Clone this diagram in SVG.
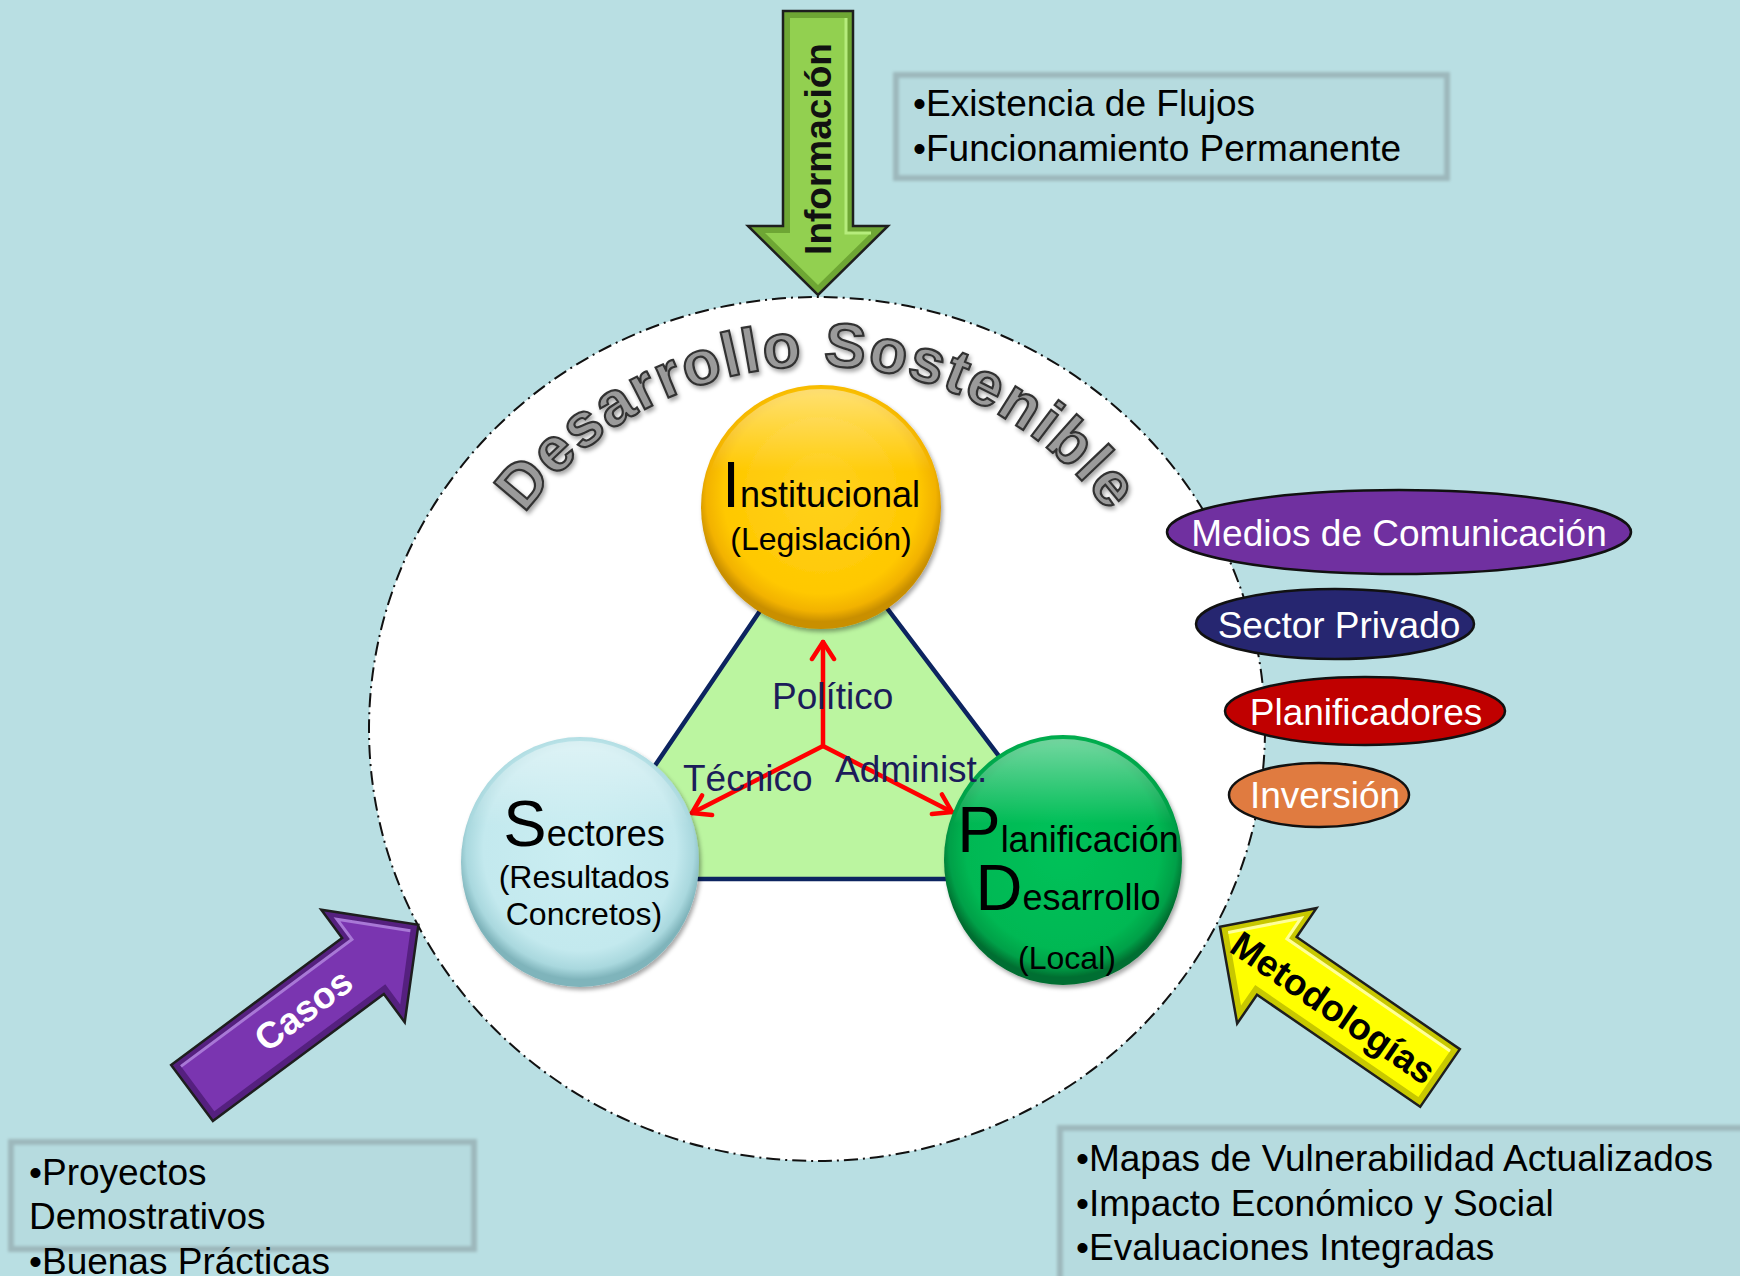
<svg xmlns="http://www.w3.org/2000/svg" width="1740" height="1276" viewBox="0 0 1740 1276">
<style>
.t{font-family:"Liberation Sans",Arial,sans-serif;}
.box{fill:#b6dbdf;stroke:#9db8bc;stroke-width:6;filter:url(#soft);}
.btxt{font-family:"Liberation Sans",Arial,sans-serif;font-size:37px;fill:#000;}
.big{font-size:65px;}
.nt{font-family:"Liberation Sans",Arial,sans-serif;font-size:36px;fill:#000;text-anchor:middle;}
.sub{font-family:"Liberation Sans",Arial,sans-serif;font-size:32px;fill:#000;text-anchor:middle;}
.lab{font-family:"Liberation Sans",Arial,sans-serif;font-size:37px;fill:#1c1c5a;}
.ell{stroke:#111;stroke-width:2.5;}
.et{font-family:"Liberation Sans",Arial,sans-serif;font-size:37px;fill:#fff;text-anchor:middle;}
.red{stroke:#ff0000;stroke-width:4.5;fill:none;stroke-linecap:round;marker-end:url(#vh);}
.arw{stroke:#1e1e1e;stroke-width:2.5;stroke-linejoin:miter;}
.at{font-family:"Liberation Sans",Arial,sans-serif;font-weight:bold;font-size:37px;text-anchor:middle;dominant-baseline:central;}
</style>
<defs>
<filter id="soft" x="-5%" y="-5%" width="110%" height="110%"><feGaussianBlur stdDeviation="1.5"/></filter>
<filter id="sh" x="-10%" y="-10%" width="120%" height="120%"><feDropShadow dx="2" dy="3" stdDeviation="2" flood-color="#000" flood-opacity="0.35"/></filter>
<marker id="vh" markerUnits="userSpaceOnUse" markerWidth="24" markerHeight="28" viewBox="0 0 24 28" refX="20" refY="14" orient="auto">
<path d="M3,3 L20,14 L3,25" fill="none" stroke="#ff0000" stroke-width="4.5" stroke-linecap="round" stroke-linejoin="round"/>
</marker>
<radialGradient id="gY" cx="50%" cy="45%" r="52%"><stop offset="0" stop-color="#ffd21e"/><stop offset="0.78" stop-color="#ffc800"/><stop offset="0.92" stop-color="#f2b200"/><stop offset="1" stop-color="#c98f00"/></radialGradient>
<radialGradient id="gB" cx="50%" cy="45%" r="52%"><stop offset="0" stop-color="#cbeef2"/><stop offset="0.78" stop-color="#c3e9ee"/><stop offset="0.92" stop-color="#a9d8de"/><stop offset="1" stop-color="#7fb4bb"/></radialGradient>
<radialGradient id="gG" cx="50%" cy="45%" r="52%"><stop offset="0" stop-color="#06c25a"/><stop offset="0.78" stop-color="#00b853"/><stop offset="0.92" stop-color="#00a048"/><stop offset="1" stop-color="#006e30"/></radialGradient>
<linearGradient id="hl" x1="0" y1="0" x2="0" y2="1"><stop offset="0" stop-color="#fff" stop-opacity="0.45"/><stop offset="0.35" stop-color="#fff" stop-opacity="0"/></linearGradient>
<path id="arc" d="M 459.5 666 A 363 363 0 0 1 1174.5 666"/>
</defs>
<rect x="0" y="0" width="1740" height="1276" fill="#b9dfe3"/>

<g id="sustainable-circle">
<ellipse cx="817" cy="729" rx="448" ry="432" fill="#ffffff" stroke="#111" stroke-width="2" stroke-dasharray="14 5 2 5"/>
<text class="t" font-weight="bold" font-size="62" fill="#9a9a9a" stroke="#333" stroke-width="2.2" letter-spacing="2" filter="url(#sh)"><textPath href="#arc" startOffset="50%" text-anchor="middle">Desarrollo Sostenible</textPath></text>
</g>

<g id="triangle">
<polygon points="821,521 578,879 1092,879" fill="#bbf5a0" stroke="#0c2460" stroke-width="4.5" stroke-linejoin="round"/>
</g>

<g id="connectors">
<line class="red" x1="823" y1="746" x2="823" y2="642"/>
<line class="red" x1="823" y1="746" x2="692" y2="813"/>
<line class="red" x1="823" y1="746" x2="952" y2="812"/>
</g>

<g id="node-institucional">
<ellipse cx="821" cy="507" rx="120" ry="122" fill="url(#gY)" filter="url(#sh)"/>
<ellipse cx="821" cy="507" rx="116" ry="118" fill="url(#hl)"/>
<text class="nt" x="821" y="507"><tspan class="big">I</tspan>nstitucional</text>
<text class="sub" x="821" y="550">(Legislación)</text>
</g>

<g id="node-sectores">
<ellipse cx="580" cy="862" rx="119" ry="125" fill="url(#gB)" filter="url(#sh)"/>
<ellipse cx="580" cy="862" rx="115" ry="121" fill="url(#hl)"/>
<text class="nt" x="584" y="846"><tspan class="big">S</tspan>ectores</text>
<text class="sub" x="584" y="888">(Resultados</text>
<text class="sub" x="584" y="925">Concretos)</text>
</g>

<g id="node-planificacion">
<ellipse cx="1063" cy="860" rx="119" ry="125" fill="url(#gG)" filter="url(#sh)"/>
<ellipse cx="1063" cy="860" rx="115" ry="121" fill="url(#hl)"/>
<text class="nt" x="1068" y="852"><tspan class="big">P</tspan>lanificación</text>
<text class="nt" x="1068" y="910"><tspan class="big">D</tspan>esarrollo</text>
<text class="sub" x="1067" y="969">(Local)</text>
</g>

<g id="labels">
<text class="lab" x="772" y="709">Político</text>
<text class="lab" x="683" y="791">Técnico</text>
<text class="lab" x="835" y="782">Administ.</text>
</g>

<g id="node-medios">
<ellipse class="ell" cx="1399" cy="532" rx="232" ry="42" fill="#7030a0"/>
<text class="et" x="1399" y="546">Medios de Comunicación</text>
</g>
<g id="node-sector-privado">
<ellipse class="ell" cx="1335" cy="624" rx="139" ry="35" fill="#262670"/>
<text class="et" x="1339" y="638">Sector Privado</text>
</g>
<g id="node-planificadores">
<ellipse class="ell" cx="1365" cy="711" rx="140" ry="34" fill="#c00000"/>
<text class="et" x="1366" y="725">Planificadores</text>
</g>
<g id="node-inversion">
<ellipse class="ell" cx="1319" cy="795" rx="90" ry="32" fill="#e07b40"/>
<text class="et" x="1325" y="808">Inversión</text>
</g>

<g id="arrow-informacion">
<g transform="translate(818,11) rotate(90)">
<polygon class="arw" points="0,-35 215,-35 215,-70 284,0 215,70 215,35 0,35" fill="#6ea634"/>
<polygon points="7,-28 222,-28 222,-53 274,0 222,53 222,28 7,28" fill="#92d050"/>
<polyline points="7,-28 222,-28 222,-53" fill="none" stroke="#b6ec7c" stroke-width="3"/>
</g>
<text class="at" x="0" y="0" fill="#111" transform="translate(818,149) rotate(-90)">Información</text>
</g>

<g id="arrow-casos">
<g transform="translate(192,1093) rotate(-36.6)">
<polygon class="arw" points="0,-35 213,-35 213,-70 282,0 213,70 213,35 0,35" fill="#55207f"/>
<polygon points="7,-28 220,-28 220,-53 272,0 220,53 220,28 7,28" fill="#7a35b0"/>
<polyline points="7,-28 220,-28 220,-53 272,0" fill="none" stroke="#a878d6" stroke-width="3"/>
<text class="at" x="139" y="0" fill="#fff">Casos</text>
</g>
</g>

<g id="arrow-metodologias">
<g transform="translate(1440,1078) rotate(-145.5)">
<polygon class="arw" points="0,-35 198,-35 198,-70 267,0 198,70 198,35 0,35" fill="#c8c800"/>
<polygon points="7,-28 205,-28 205,-53 257,0 205,53 205,28 7,28" fill="#ffff00"/>
<polyline points="7,28 205,28 205,53 257,0" fill="none" stroke="#ffff99" stroke-width="3"/>
</g>
<text class="at" x="0" y="0" fill="#000" transform="translate(1333,1008) rotate(34.5)">Metodologías</text>
</g>

<g id="box-informacion">
<rect class="box" x="896" y="75" width="551" height="103"/>
<text class="btxt" x="913" y="116">•Existencia de Flujos</text>
<text class="btxt" x="913" y="161">•Funcionamiento Permanente</text>
</g>

<g id="box-casos">
<rect class="box" x="11" y="1142" width="463" height="107"/>
<text class="btxt" x="29" y="1185">•Proyectos</text>
<text class="btxt" x="29" y="1229">Demostrativos</text>
<text class="btxt" x="29" y="1274">•Buenas Prácticas</text>
</g>

<g id="box-metodologias">
<rect class="box" x="1060" y="1128" width="690" height="160"/>
<text class="btxt" x="1076" y="1171">•Mapas de Vulnerabilidad Actualizados</text>
<text class="btxt" x="1076" y="1216">•Impacto Económico y Social</text>
<text class="btxt" x="1076" y="1260">•Evaluaciones Integradas</text>
</g>
</svg>
